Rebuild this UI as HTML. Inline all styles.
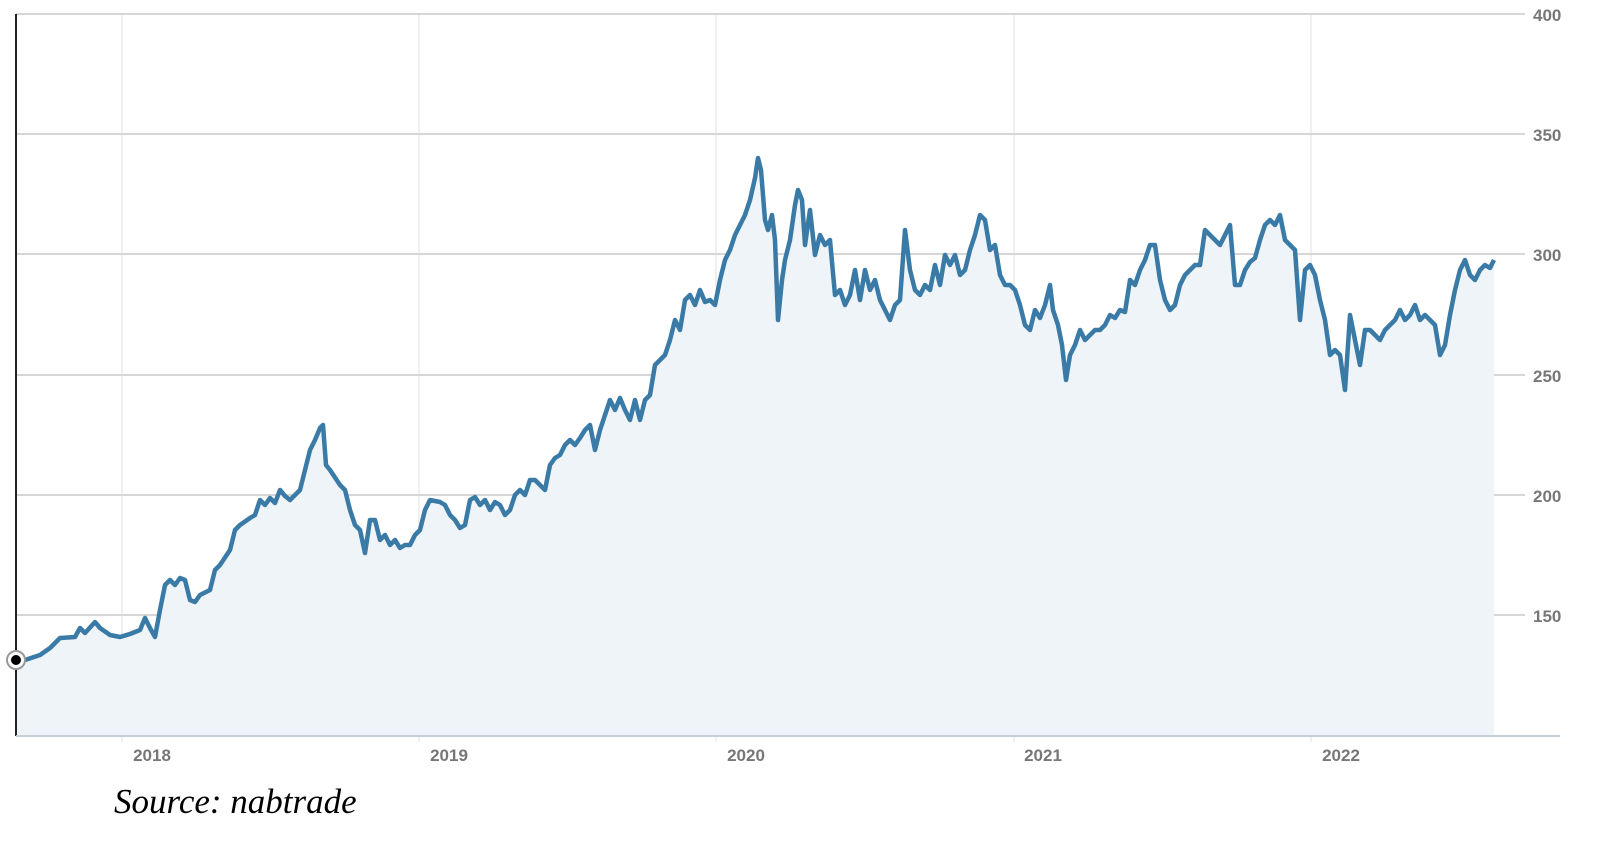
<!DOCTYPE html>
<html><head><meta charset="utf-8"><style>
html,body{margin:0;padding:0;background:#fff;width:1600px;height:844px;overflow:hidden}
svg{display:block}
</style></head><body>
<svg width="1600" height="844" viewBox="0 0 1600 844" xmlns="http://www.w3.org/2000/svg">
<g stroke="#ececec" stroke-width="1.5">
<line x1="122" y1="14" x2="122" y2="742"/><line x1="419" y1="14" x2="419" y2="742"/><line x1="716" y1="14" x2="716" y2="742"/><line x1="1014" y1="14" x2="1014" y2="742"/><line x1="1311" y1="14" x2="1311" y2="742"/>
</g>
<g stroke="#d6d6d6" stroke-width="2">
<line x1="16" y1="14" x2="1525" y2="14"/><line x1="16" y1="134" x2="1525" y2="134"/><line x1="16" y1="254" x2="1525" y2="254"/><line x1="16" y1="375" x2="1525" y2="375"/><line x1="16" y1="495" x2="1525" y2="495"/><line x1="16" y1="615" x2="1525" y2="615"/>
</g>
<polygon fill="#eef4f8" points="16,735 16,665 25,660 40,655 50,648 60,638 75,637 80,628 85,633 95,622 100,628 110,635 120,637 130,634 140,630 145,618 150,628 155,637 160,610 165,585 170,580 175,585 180,578 185,580 190,600 195,602 200,595 210,590 215,570 220,565 230,550 235,530 240,525 250,518 255,515 260,500 265,505 270,498 275,503 280,490 285,496 290,500 295,495 300,490 305,470 310,450 315,440 320,428 323,425 326,465 330,470 340,485 345,490 350,510 355,525 360,530 365,553 370,520 375,520 380,540 385,535 390,545 395,540 400,548 405,545 410,545 415,535 420,530 425,510 430,500 440,502 445,505 450,515 455,520 460,528 465,525 470,500 475,497 480,505 485,500 490,510 495,502 500,505 505,515 510,510 515,495 520,490 525,495 530,480 535,480 540,485 545,490 550,465 555,458 560,455 565,445 570,440 575,445 580,438 585,430 590,425 595,450 600,430 605,415 610,400 615,410 620,398 625,410 630,420 635,400 640,420 645,400 650,395 655,365 660,360 665,355 670,340 675,320 680,330 685,300 690,295 695,305 700,290 705,302 710,300 715,305 720,280 725,260 730,250 735,235 740,225 745,215 750,200 755,178 758,158 761,170 765,220 768,230 772,215 775,240 778,320 782,280 785,260 790,240 795,205 798,190 802,200 805,245 810,210 815,255 820,235 825,245 830,240 835,295 840,290 845,305 850,295 855,270 860,300 865,270 870,290 875,280 880,300 885,310 890,320 895,305 900,300 905,230 910,270 915,290 920,295 925,285 930,290 935,265 940,285 945,255 950,265 955,255 960,275 965,270 970,250 975,235 980,215 985,220 990,250 995,245 1000,275 1005,285 1010,285 1015,290 1020,305 1025,325 1030,330 1035,310 1040,318 1045,305 1050,285 1053,310 1058,325 1062,345 1066,380 1070,355 1075,345 1080,330 1085,340 1090,335 1095,330 1100,330 1105,325 1110,315 1115,318 1120,310 1125,312 1130,280 1135,285 1140,270 1145,260 1150,245 1155,245 1160,280 1165,300 1170,310 1175,305 1180,285 1185,275 1190,270 1195,265 1200,265 1205,230 1210,235 1215,240 1220,245 1225,235 1230,225 1235,285 1240,285 1245,270 1250,262 1255,258 1260,240 1265,225 1270,220 1275,225 1280,215 1285,240 1290,245 1295,250 1300,320 1305,270 1310,265 1315,275 1320,300 1325,320 1330,355 1335,350 1340,355 1345,390 1350,315 1355,340 1360,365 1365,330 1370,330 1375,335 1380,340 1385,330 1390,325 1395,320 1400,310 1405,320 1410,315 1415,305 1420,320 1425,315 1430,320 1435,325 1440,355 1445,345 1450,315 1455,290 1460,270 1465,260 1470,275 1475,280 1480,270 1485,265 1490,268 1494,260 1494,735"/>
<polyline fill="none" stroke="#3a7aa6" stroke-width="4.5" stroke-linejoin="round" points="16,665 25,660 40,655 50,648 60,638 75,637 80,628 85,633 95,622 100,628 110,635 120,637 130,634 140,630 145,618 150,628 155,637 160,610 165,585 170,580 175,585 180,578 185,580 190,600 195,602 200,595 210,590 215,570 220,565 230,550 235,530 240,525 250,518 255,515 260,500 265,505 270,498 275,503 280,490 285,496 290,500 295,495 300,490 305,470 310,450 315,440 320,428 323,425 326,465 330,470 340,485 345,490 350,510 355,525 360,530 365,553 370,520 375,520 380,540 385,535 390,545 395,540 400,548 405,545 410,545 415,535 420,530 425,510 430,500 440,502 445,505 450,515 455,520 460,528 465,525 470,500 475,497 480,505 485,500 490,510 495,502 500,505 505,515 510,510 515,495 520,490 525,495 530,480 535,480 540,485 545,490 550,465 555,458 560,455 565,445 570,440 575,445 580,438 585,430 590,425 595,450 600,430 605,415 610,400 615,410 620,398 625,410 630,420 635,400 640,420 645,400 650,395 655,365 660,360 665,355 670,340 675,320 680,330 685,300 690,295 695,305 700,290 705,302 710,300 715,305 720,280 725,260 730,250 735,235 740,225 745,215 750,200 755,178 758,158 761,170 765,220 768,230 772,215 775,240 778,320 782,280 785,260 790,240 795,205 798,190 802,200 805,245 810,210 815,255 820,235 825,245 830,240 835,295 840,290 845,305 850,295 855,270 860,300 865,270 870,290 875,280 880,300 885,310 890,320 895,305 900,300 905,230 910,270 915,290 920,295 925,285 930,290 935,265 940,285 945,255 950,265 955,255 960,275 965,270 970,250 975,235 980,215 985,220 990,250 995,245 1000,275 1005,285 1010,285 1015,290 1020,305 1025,325 1030,330 1035,310 1040,318 1045,305 1050,285 1053,310 1058,325 1062,345 1066,380 1070,355 1075,345 1080,330 1085,340 1090,335 1095,330 1100,330 1105,325 1110,315 1115,318 1120,310 1125,312 1130,280 1135,285 1140,270 1145,260 1150,245 1155,245 1160,280 1165,300 1170,310 1175,305 1180,285 1185,275 1190,270 1195,265 1200,265 1205,230 1210,235 1215,240 1220,245 1225,235 1230,225 1235,285 1240,285 1245,270 1250,262 1255,258 1260,240 1265,225 1270,220 1275,225 1280,215 1285,240 1290,245 1295,250 1300,320 1305,270 1310,265 1315,275 1320,300 1325,320 1330,355 1335,350 1340,355 1345,390 1350,315 1355,340 1360,365 1365,330 1370,330 1375,335 1380,340 1385,330 1390,325 1395,320 1400,310 1405,320 1410,315 1415,305 1420,320 1425,315 1430,320 1435,325 1440,355 1445,345 1450,315 1455,290 1460,270 1465,260 1470,275 1475,280 1480,270 1485,265 1490,268 1494,260"/>
<line x1="16" y1="14" x2="16" y2="736" stroke="#222" stroke-width="2"/>
<line x1="16" y1="736" x2="1560" y2="736" stroke="#c8ced6" stroke-width="2"/>
<circle cx="16" cy="660" r="9" fill="#fff" stroke="#999" stroke-width="2"/>
<circle cx="16" cy="660" r="5" fill="#000"/>
<g font-family="Liberation Sans, sans-serif" font-weight="bold" font-size="17" fill="#777">
<text x="1533" y="21">400</text><text x="1533" y="141">350</text><text x="1533" y="261">300</text><text x="1533" y="382">250</text><text x="1533" y="502">200</text><text x="1533" y="622">150</text>
<text x="152" y="761" text-anchor="middle">2018</text><text x="449" y="761" text-anchor="middle">2019</text><text x="746" y="761" text-anchor="middle">2020</text><text x="1043" y="761" text-anchor="middle">2021</text><text x="1341" y="761" text-anchor="middle">2022</text>
</g>
<text x="114" y="813" font-family="Liberation Serif, serif" font-style="italic" font-size="35" fill="#000">Source: nabtrade</text>
</svg>
</body></html>
